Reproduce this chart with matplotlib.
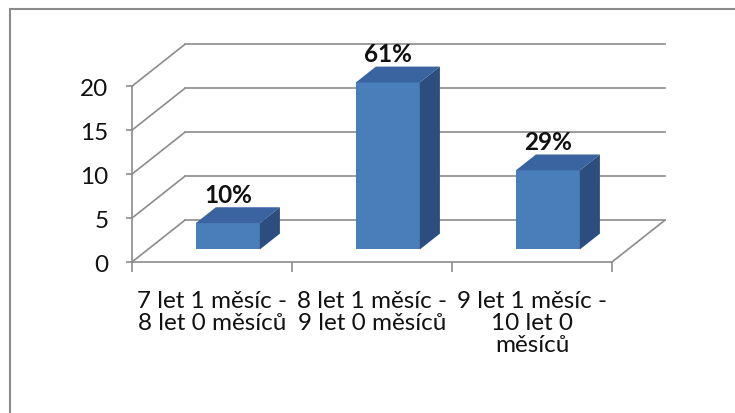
import matplotlib
matplotlib.use("Agg")
import matplotlib.pyplot as plt
from matplotlib.patches import Rectangle

# Age groups and number of children in each
categories = ["7 let 1 měsíc -\n8 let 0 měsíců",
              "8 let 1 měsíc -\n9 let 0 měsíců",
              "9 let 1 měsíc -\n10 let 0\nměsíců"]
counts = [3, 19, 9]
y_ticks = [0, 5, 10, 15, 20]

# pseudo-3D geometry (depth offset in data units)
DX, DY = 0.33, 4.75
BAR_W = 0.4
F0, DEPTH = 0.3, 0.38

FRONT = "#4a7ebb"
TOP = "#3a64a0"
SIDE = "#2c4e7e"
GRID = "#8c8c8c"
FS = 17.5

plt.rcParams["font.family"] = ["Lato", "DejaVu Sans"]

fig = plt.figure(figsize=(7.35, 4.14), dpi=100)
fig.patches.append(Rectangle((10 / 735, -0.1), 1.2, 1 - 10 / 414 + 0.1,
                             transform=fig.transFigure, fill=False,
                             edgecolor="#8c8c8c", linewidth=1.5))

ax = fig.add_axes([132 / 735, 151 / 414, 536 / 735, 218 / 414])
ax.set_xlim(-0.5, 2.85)
ax.set_ylim(0, 24.8)
for s in ax.spines.values():
    s.set_visible(False)
ax.patch.set_alpha(0)

x_left, x_right = -0.5, len(categories) - 0.5
gkw = dict(color=GRID, linewidth=1.2, clip_on=False, zorder=1)

# back wall gridlines and left wall slants
for v in y_ticks:
    ax.plot([x_left + DX, x_right + DX], [v + DY, v + DY], **gkw)
    ax.plot([x_left, x_left + DX], [v, v + DY], **gkw)
# floor edges and front wall edge
ax.plot([x_left, x_right], [0, 0], **gkw)
ax.plot([x_right, x_right + DX], [0, DY], **gkw)
ax.plot([x_left, x_left], [0, y_ticks[-1]], **gkw)

total = sum(counts)
xs = list(range(len(counts)))
x0s = [i - BAR_W / 2 + F0 * DX for i in xs]
yb = F0 * DY
ddx, ddy = DEPTH * DX, DEPTH * DY

ax.bar(x0s, counts, width=BAR_W, bottom=yb, align="edge",
       color=FRONT, zorder=3)
for x0, v in zip(x0s, counts):
    top = yb + v
    ax.fill([x0, x0 + BAR_W, x0 + BAR_W + ddx, x0 + ddx],
            [top, top, top + ddy, top + ddy], color=TOP, zorder=3,
            linewidth=0)
    ax.fill([x0 + BAR_W, x0 + BAR_W + ddx, x0 + BAR_W + ddx, x0 + BAR_W],
            [yb, yb + ddy, top + ddy, top], color=SIDE, zorder=3,
            linewidth=0)
    ax.text(x0 + BAR_W / 2, top + ddy + 1.5, f"{round(100 * v / total)}%",
            ha="center", va="center", fontsize=FS, fontweight="bold",
            color="#111111", zorder=4, clip_on=False)

# axes ticks
ax.set_yticks(y_ticks)
ax.tick_params(axis="y", length=4, width=1.2, color=GRID, pad=13,
               labelsize=FS, labelcolor="#111111")
ax.set_xticks([i - 0.5 for i in range(len(categories) + 1)])
ax.set_xticklabels([])
ax.set_xticks(xs, minor=True)
ax.set_xticklabels(categories, minor=True, fontsize=FS, color="#111111",
                   linespacing=1.07)
ax.tick_params(axis="x", which="minor", length=0, pad=20)
ax.tick_params(axis="x", which="major", length=7, width=1.2, color=GRID)

fig.savefig("out.png", dpi=100)
